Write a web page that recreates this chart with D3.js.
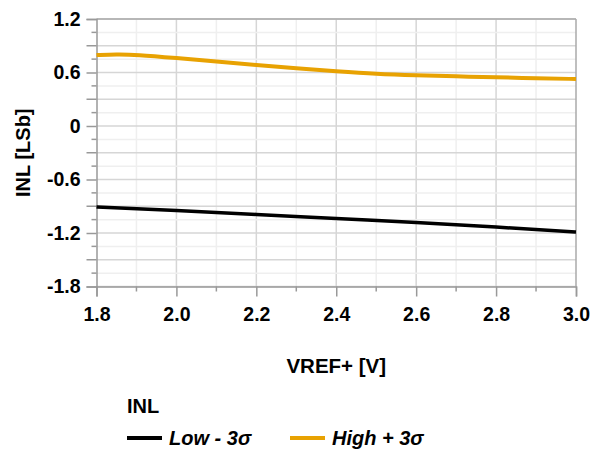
<!DOCTYPE html>
<html><head><meta charset="utf-8">
<script src="https://cdn.jsdelivr.net/npm/d3@7"></script>
<style>body{margin:0;background:#fff}svg{display:block}text{font-family:"Liberation Sans",Arial,sans-serif;font-weight:bold;fill:#000}</style>
</head><body>
<script>
const vref = [1.8,1.85,1.9,2.0,2.1,2.2,2.3,2.4,2.5,2.6,2.7,2.8,2.9,3.0];
const highPlus3s = [0.795,0.805,0.800,0.762,0.722,0.684,0.647,0.615,0.585,0.569,0.557,0.546,0.536,0.527];
const lowVref = [1.8,2.0,2.2,2.4,2.6,2.8,3.0];
const lowMinus3s = [-0.908,-0.948,-0.992,-1.038,-1.083,-1.133,-1.188];
const xTicks = [1.8,2.0,2.2,2.4,2.6,2.8,3.0];
const yTicks = [1.2,0.6,0,-0.6,-1.2,-1.8];
const seriesNames = ["Low - 3σ","High + 3σ"];
const colors = ["#000000","#E8A202"];

const W=605,H=451;
const m={l:96.5,r:576,t:19,b:286.5};
const svg=d3.select("body").append("svg").attr("width",W).attr("height",H);
const x=d3.scaleLinear().domain([1.8,3.0]).range([m.l,m.r]);
const y=d3.scaleLinear().domain([-1.8,1.2]).range([m.b,m.t]);

const g=svg.append("g");
const xMinor=d3.range(19,30,1).map(v=>v/10);
const yMinor=d3.range(-12,9,1).map(v=>v*0.15);
g.selectAll(".xm").data(xMinor).enter().append("line")
 .attr("x1",d=>x(d)).attr("x2",d=>x(d)).attr("y1",m.t).attr("y2",m.b)
 .attr("stroke",d=>Math.round(d*10)%2===0?"#d6d6d6":"#efefef").attr("stroke-width",1.5);
g.selectAll(".ym").data(yMinor).enter().append("line")
 .attr("y1",d=>y(d)).attr("y2",d=>y(d)).attr("x1",m.l).attr("x2",m.r)
 .attr("stroke",(d,i)=>i%2===0?"#d6d6d6":"#efefef").attr("stroke-width",1.5);
svg.append("line").attr("x1",m.l).attr("x2",m.r).attr("y1",m.t).attr("y2",m.t).attr("stroke","#aaa").attr("stroke-width",1.5);
svg.append("line").attr("x1",m.r).attr("x2",m.r).attr("y1",m.t).attr("y2",m.b).attr("stroke","#aaa").attr("stroke-width",1.5);

const yAxis=d3.axisLeft(y).tickValues(yTicks).tickFormat(d=>d===0?"0":d.toFixed(1)).tickSize(10).tickPadding(6);
const ya=svg.append("g").attr("transform",`translate(${m.l},0)`).call(yAxis);
const xAxis=d3.axisBottom(x).tickValues(xTicks).tickFormat(d3.format(".1f")).tickSize(10).tickPadding(10.5);
const xa=svg.append("g").attr("transform",`translate(0,${m.b})`).call(xAxis);
[ya,xa].forEach(a=>{a.select(".domain").attr("stroke","#999").attr("stroke-width",1.5);
 a.selectAll(".tick line").attr("stroke","#999").attr("stroke-width",1.5);
 a.selectAll("text").attr("font-size",19.5).attr("font-family","Liberation Sans, Arial, sans-serif").attr("font-weight","bold").attr("fill","#000");});
const ySmall=yMinor.filter(v=>!yTicks.some(t=>Math.abs(t-v)<1e-6));
svg.selectAll(".yt").data(ySmall).enter().append("line").attr("x1",d=>m.l-(Math.abs(Math.round(d/0.15))%2===0?10:5)).attr("x2",m.l)
 .attr("y1",d=>y(d)).attr("y2",d=>y(d)).attr("stroke","#999").attr("stroke-width",1.5);
const xSmall=[1.9,2.1,2.3,2.5,2.7,2.9];
svg.selectAll(".xt").data(xSmall).enter().append("line").attr("y1",m.b).attr("y2",m.b+5)
 .attr("x1",d=>x(d)).attr("x2",d=>x(d)).attr("stroke","#999").attr("stroke-width",1.5);

const line=d3.line().x(d=>x(d[0])).y(d=>y(d[1])).curve(d3.curveBasis);
svg.append("path").datum(lowVref.map((v,i)=>[v,lowMinus3s[i]])).attr("d",d3.line().x(d=>x(d[0])).y(d=>y(d[1])).curve(d3.curveMonotoneX))
 .attr("fill","none").attr("stroke",colors[0]).attr("stroke-width",3.5);
svg.append("path").datum(vref.map((v,i)=>[v,highPlus3s[i]])).attr("d",line)
 .attr("fill","none").attr("stroke",colors[1]).attr("stroke-width",4);

svg.append("text").attr("transform",`translate(30,${(m.t+m.b)/2}) rotate(-90)`).attr("text-anchor","middle").attr("font-size",20).text("INL [LSb]");
svg.append("text").attr("x",(m.l+m.r)/2).attr("y",373).attr("text-anchor","middle").attr("font-size",20.5).text("VREF+ [V]");
svg.append("text").attr("x",127).attr("y",413).attr("font-size",20).text("INL");
const leg=[{x:127,tx:169},{x:290,tx:332}];
leg.forEach((l,i)=>{
 svg.append("line").attr("x1",l.x).attr("x2",l.x+35).attr("y1",438).attr("y2",438).attr("stroke",colors[i]).attr("stroke-width",4);
 svg.append("text").attr("x",l.tx).attr("y",445).attr("font-size",20).attr("font-style","italic").text(seriesNames[i]);
});
</script>
</body></html>
